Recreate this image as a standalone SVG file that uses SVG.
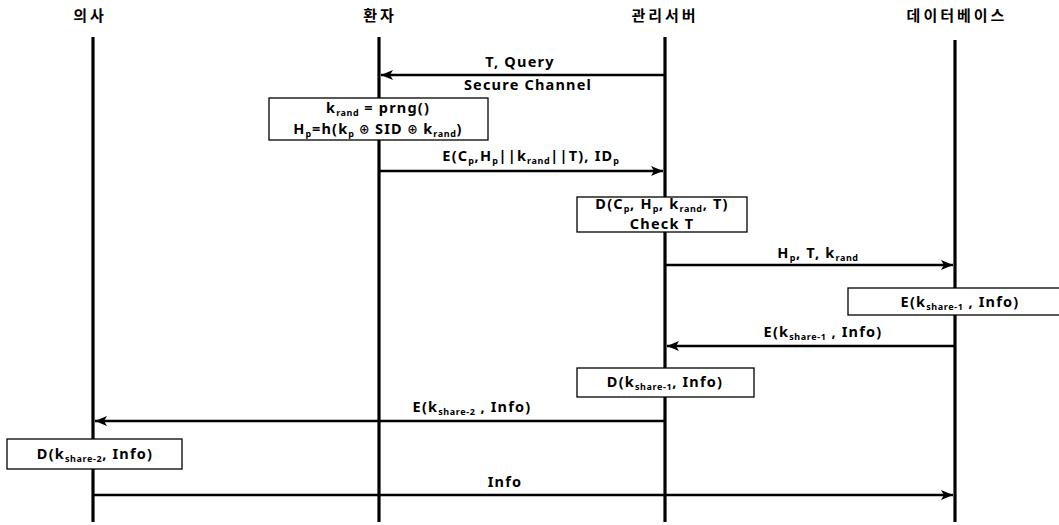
<svg xmlns="http://www.w3.org/2000/svg" width="1059" height="525" viewBox="0 0 1059 525">
<style>
text{font-family:"Noto Sans","Noto Sans CJK KR",sans-serif;font-weight:bold;font-size:14.5px;letter-spacing:1.2px;fill:#000;text-anchor:middle}
.hdr{font-family:"Noto Sans CJK KR",sans-serif;font-size:15px;letter-spacing:3px}
.life{stroke:#000;stroke-width:3.2;fill:none}
.msg{stroke:#000;stroke-width:2.4;fill:none}
.box{fill:#fff;stroke:#000;stroke-width:1.3}
.s{font-size:9px;letter-spacing:0.6px}
.op{font-size:11px}
</style>
<defs>
<marker id="ah" viewBox="0 0 12 10" refX="12" refY="5" markerWidth="12" markerHeight="10" markerUnits="userSpaceOnUse" orient="auto">
<path d="M0,0 L12,5 L0,10 L3,5 Z" fill="#000"/>
</marker>
</defs>
<g id="lifelines">
<g id="doctor"><text class="hdr" x="90" y="21">의사</text><line class="life" x1="93" y1="37" x2="93" y2="522"/></g>
<g id="patient"><text class="hdr" x="380" y="21">환자</text><line class="life" x1="379" y1="37" x2="379" y2="522"/></g>
<g id="server"><text class="hdr" x="665" y="21">관리서버</text><line class="life" x1="665" y1="37" x2="665" y2="522"/></g>
<g id="database"><text class="hdr" x="957" y="21">데이터베이스</text><line class="life" x1="955" y1="40" x2="955" y2="522"/></g>
</g>
<g id="connectors">
<line class="msg" x1="665" y1="75" x2="381" y2="75" marker-end="url(#ah)"/>
<line class="msg" x1="379" y1="171" x2="663" y2="171" marker-end="url(#ah)"/>
<line class="msg" x1="665" y1="265" x2="953" y2="265" marker-end="url(#ah)"/>
<line class="msg" x1="955" y1="346" x2="667" y2="346" marker-end="url(#ah)"/>
<line class="msg" x1="665" y1="421" x2="95" y2="421" marker-end="url(#ah)"/>
<line class="msg" x1="93" y1="495" x2="953" y2="495" marker-end="url(#ah)"/>
</g>
<g id="labels">
<text x="520" y="67">T, Query</text>
<text x="528" y="90">Secure Channel</text>
<text x="531" y="161">E(C<tspan class="s" dy="3">p</tspan><tspan dy="-3">,H</tspan><tspan class="s" dy="3">p</tspan><tspan dy="-3">||k</tspan><tspan class="s" dy="3">rand</tspan><tspan dy="-3">||T), ID</tspan><tspan class="s" dy="3">p</tspan></text>
<text x="818" y="258">H<tspan class="s" dy="3">p</tspan><tspan dy="-3">, T, k</tspan><tspan class="s" dy="3">rand</tspan></text>
<text x="823" y="337">E(k<tspan class="s" dy="3">share-1</tspan><tspan dy="-3"> , Info)</tspan></text>
<text x="472" y="412">E(k<tspan class="s" dy="3">share-2</tspan><tspan dy="-3"> , Info)</tspan></text>
<text x="505" y="487">Info</text>
</g>
<g id="box-krand">
<rect class="box" x="269" y="98" width="219" height="42"/>
<text x="378" y="113">k<tspan class="s" dy="2.5">rand</tspan><tspan dy="-2.5"> =  prng()</tspan></text>
<text x="378" y="134">H<tspan class="s" dy="2.5">p</tspan><tspan dy="-2.5">=h(k</tspan><tspan class="s" dy="2.5">p</tspan><tspan class="op" dy="-2.5"> ⊕ </tspan><tspan>SID</tspan><tspan class="op"> ⊕ </tspan><tspan>k</tspan><tspan class="s" dy="2.5">rand</tspan><tspan dy="-2.5">)</tspan></text>
</g>
<g id="box-decrypt">
<rect class="box" x="577" y="197" width="170" height="35"/>
<text x="662" y="209">D(C<tspan class="s" dy="2.5">p</tspan><tspan dy="-2.5">, H</tspan><tspan class="s" dy="2.5">p</tspan><tspan dy="-2.5">, k</tspan><tspan class="s" dy="2.5">rand</tspan><tspan dy="-2.5">, T)</tspan></text>
<text x="662" y="229">Check  T</text>
</g>
<g id="box-enc1">
<rect class="box" x="848" y="288" width="215" height="27"/>
<text x="960" y="307">E(k<tspan class="s" dy="3">share-1</tspan><tspan dy="-3"> , Info)</tspan></text>
</g>
<g id="box-dec1">
<rect class="box" x="577" y="368" width="177" height="29"/>
<text x="665" y="387">D(k<tspan class="s" dy="3">share-1</tspan><tspan dy="-3">, Info)</tspan></text>
</g>
<g id="box-dec2">
<rect class="box" x="7" y="439" width="175" height="30"/>
<text x="95" y="459">D(k<tspan class="s" dy="3">share-2</tspan><tspan dy="-3">, Info)</tspan></text>
</g>
</svg>
